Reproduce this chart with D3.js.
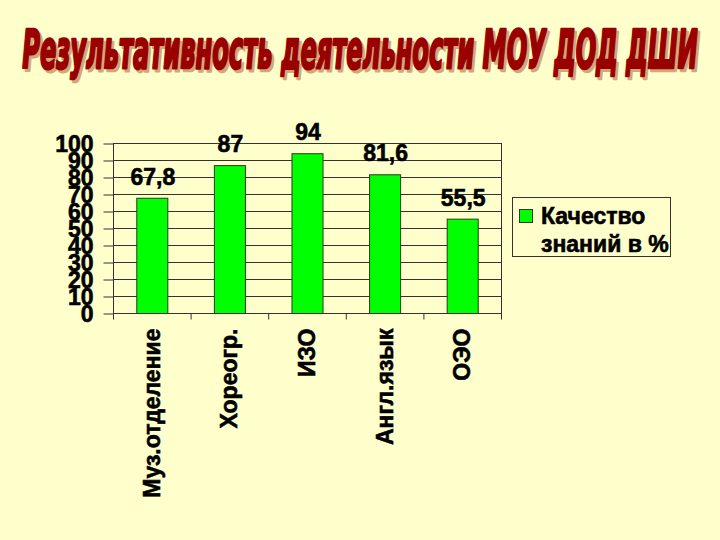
<!DOCTYPE html>
<html><head><meta charset="utf-8">
<script src="https://cdn.jsdelivr.net/npm/d3@7"></script>
<style>html,body{margin:0;padding:0;background:#FFFFCC;}svg{display:block;}</style>
</head><body>
<script>
const title = "Результативность деятельности МОУ ДОД ДШИ";
const categories = ["Муз.отделение", "Хореогр.", "ИЗО", "Англ.язык", "ОЭО"];
const values = [67.8, 87, 94, 81.6, 55.5];
const valueLabels = ["67,8", "87", "94", "81,6", "55,5"];
const yTicks = [0, 10, 20, 30, 40, 50, 60, 70, 80, 90, 100];
const legendLines = ["Качество", "знаний в %"];

const W = 720, H = 540;
const svg = d3.select("body").append("svg").attr("width", W).attr("height", H);
svg.append("rect").attr("width", W).attr("height", H).attr("fill", "#FFFFCC");

const FONT = "'Liberation Sans', Arial, sans-serif";
const FS = 23;
const BAR = "#00ff00";
function boldText(sel) {
  return sel.attr("font-family", FONT).attr("font-weight", "bold").attr("font-size", FS)
    .attr("fill", "#000").attr("stroke", "#000").attr("stroke-width", 0.6);
}

// Title (condensed heavy italic, squeezed to fit)
const targetW = 676;
[["#d2a87a", 2.5, 2.5], ["#990000", 0, 0]].forEach(([c, dx, dy]) => {
  const g = svg.append("g");
  const t = g.append("text").attr("x", 0).attr("y", 0)
    .attr("text-anchor", "middle")
    .attr("font-family", "'Liberation Sans Narrow', 'DejaVu Sans Condensed', sans-serif")
    .attr("font-weight", "bold").attr("font-style", "italic")
    .attr("font-size", 54)
    .attr("fill", c).attr("stroke", c).attr("stroke-width", 2.6).attr("stroke-linejoin", "round")
    .text(title);
  const w = t.node().getComputedTextLength();
  g.attr("transform", `translate(${360 + dx},${68 + dy}) scale(${targetW / w},1)`);
});

const x0 = 113, x1 = 501, yTop = 143, yBot = 313;
const x = d3.scaleBand().domain(categories).range([x0, x1]).paddingInner(0.6).paddingOuter(0.3);
const y = d3.scaleLinear().domain([0, 100]).range([yBot, yTop]);
const lineColor = "#333";

// gridlines
svg.append("g").selectAll("line").data(yTicks.filter(d => d > 0)).join("line")
  .attr("x1", x0).attr("x2", x1).attr("y1", d => y(d) + 0.5).attr("y2", d => y(d) + 0.5)
  .attr("stroke", lineColor).attr("stroke-width", 1);
// right border
svg.append("line").attr("x1", x1 + 0.5).attr("x2", x1 + 0.5).attr("y1", yTop).attr("y2", yBot)
  .attr("stroke", lineColor);

// bars
svg.append("g").selectAll("rect").data(values).join("rect")
  .attr("x", (d, i) => x(categories[i]) + 0.5)
  .attr("y", d => y(d) + 0.5)
  .attr("width", x.bandwidth())
  .attr("height", d => yBot - y(d))
  .attr("fill", BAR).attr("stroke", "#2a3a1a").attr("stroke-width", 1);

// y axis
const yAxis = d3.axisLeft(y).tickValues(yTicks).tickSize(10).tickPadding(12);
const ya = svg.append("g").attr("transform", `translate(${x0 + 0.5},0.5)`).call(yAxis);
ya.select(".domain").attr("stroke", lineColor).attr("d", `M0,${yTop}V${yBot}`);
ya.selectAll(".tick line").attr("stroke", lineColor);
ya.selectAll(".tick text").call(boldText).attr("dy", "0.36em").attr("x", -20);

// x axis
const xAxisG = svg.append("g").attr("transform", `translate(0,${yBot + 0.5})`);
xAxisG.append("line").attr("x1", x0).attr("x2", x1 + 1).attr("stroke", lineColor);
const bounds = categories.map((c, i) => x0 + i * (x1 - x0) / categories.length).concat([x1]);
xAxisG.selectAll("line.tk").data(bounds).join("line").attr("class", "tk")
  .attr("x1", d => d + 0.5).attr("x2", d => d + 0.5).attr("y1", 0).attr("y2", 6)
  .attr("stroke", lineColor);
xAxisG.selectAll("text").data(categories).join("text")
  .attr("transform", d => `translate(${x(d) + x.bandwidth() / 2 + 8},15) rotate(-90)`)
  .attr("text-anchor", "end")
  .call(boldText)
  .text(d => d);

// value labels
svg.append("g").selectAll("text").data(values).join("text")
  .attr("x", (d, i) => x(categories[i]) + x.bandwidth() / 2 + 1)
  .attr("y", d => y(d) - 13)
  .attr("text-anchor", "middle")
  .call(boldText)
  .text((d, i) => valueLabels[i]);

// legend
const lg = svg.append("g");
lg.append("rect").attr("x", 512.5).attr("y", 197.5).attr("width", 158).attr("height", 59)
  .attr("fill", "#FFFFCC").attr("stroke", lineColor);
lg.append("rect").attr("x", 519.5).attr("y", 209.5).attr("width", 13).attr("height", 13)
  .attr("fill", BAR).attr("stroke", "#2a3a1a");
legendLines.forEach((t, i) => {
  lg.append("text").attr("x", 541).attr("y", 224 + i * 28).call(boldText).text(t);
});
</script>
</body></html>
